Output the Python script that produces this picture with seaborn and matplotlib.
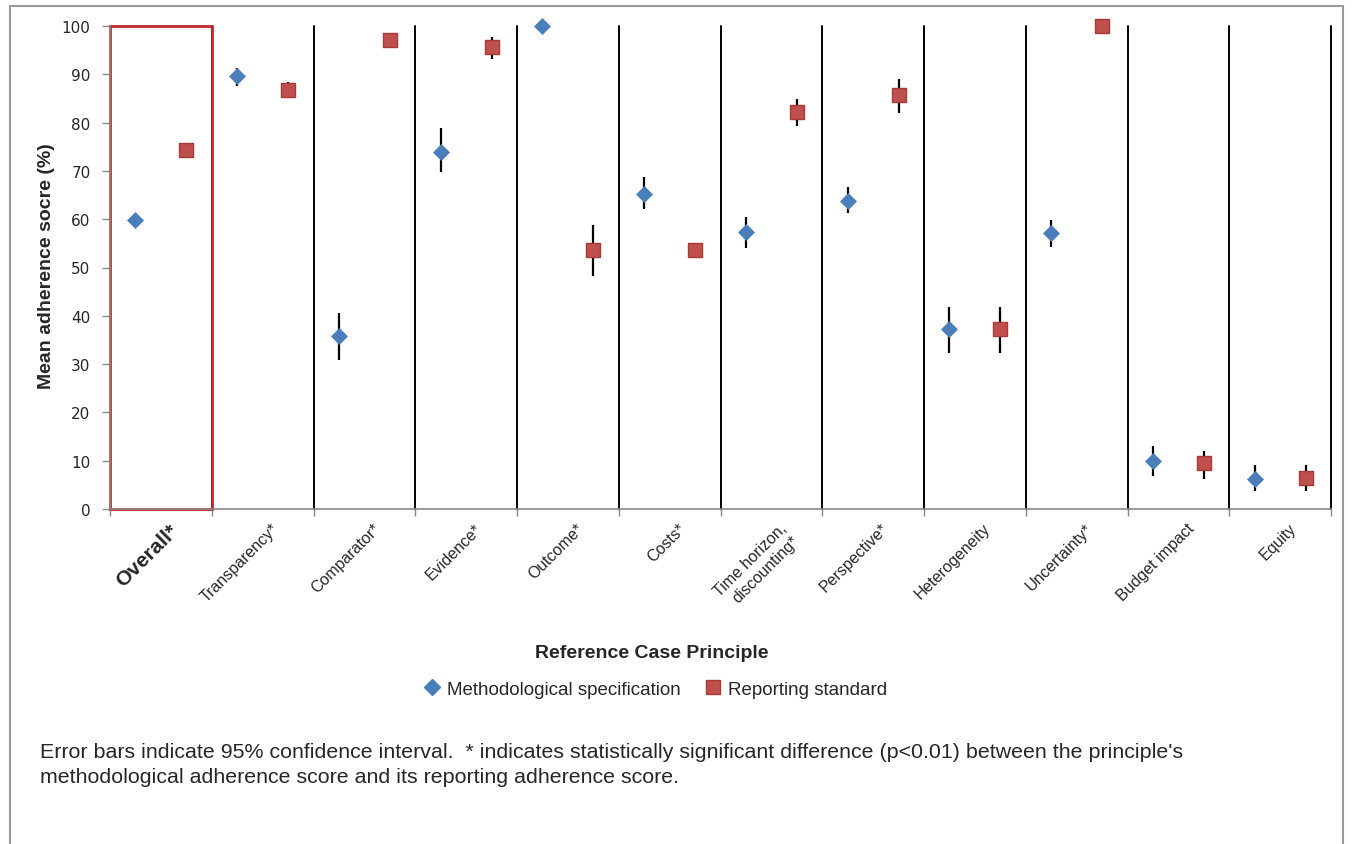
import matplotlib
matplotlib.use("Agg")
import matplotlib.pyplot as plt
import matplotlib.transforms as mtransforms
from matplotlib.patches import Rectangle
from matplotlib.lines import Line2D
import seaborn as sns
import pandas as pd
import numpy as np

categories = ["Overall*", "Transparency*", "Comparator*", "Evidence*", "Outcome*", "Costs*",
              "Time horizon,\ndiscounting*", "Perspective*", "Heterogeneity", "Uncertainty*",
              "Budget impact", "Equity"]

# methodological specification: mean, lower CI, upper CI
meth_mean = [59.8, 89.6, 35.8, 74.0, 100.0, 65.2, 57.3, 63.8, 37.3, 57.1, 9.9, 6.2]
meth_low = [59.3, 87.6, 30.8, 69.7, 99.5, 62.1, 54.0, 61.3, 32.3, 54.2, 6.8, 3.8]
meth_high = [60.3, 91.4, 40.6, 78.8, 100.0, 68.7, 60.4, 66.6, 41.9, 59.9, 13.0, 9.1]

# reporting standard: mean, lower CI, upper CI
rep_mean = [74.3, 86.7, 97.1, 95.6, 53.7, 53.7, 82.1, 85.8, 37.3, 100.0, 9.5, 6.4]
rep_low = [73.8, 85.0, 96.5, 93.2, 48.2, 53.2, 79.2, 82.0, 32.3, 99.5, 6.2, 3.8]
rep_high = [74.8, 88.4, 97.6, 97.7, 58.7, 54.2, 84.9, 89.0, 41.9, 100.0, 12.1, 9.1]

sns.set_theme(style="white")
plt.rcParams["font.family"] = ["Liberation Sans", "DejaVu Sans"]

blue = "#4a7ebb"
red = "#c0504d"
red_edge = "#a83a37"

n = len(categories)
pos = np.arange(n)
df = pd.DataFrame({
    "x": np.concatenate([pos - 0.25, pos + 0.25]),
    "y": meth_mean + rep_mean,
    "lo": meth_low + rep_low,
    "hi": meth_high + rep_high,
    "series": ["Methodological specification"] * n + ["Reporting standard"] * n,
})

fig = plt.figure(figsize=(13.54, 8.45), dpi=100)
ax = fig.add_axes([110 / 1354, 1 - 510 / 845, 1221 / 1354, 483 / 845])

# separators between principles
for b in np.arange(0.5, n + 0.5, 1.0):
    ax.plot([b, b], [0, 100], color="black", lw=1.4, zorder=1, clip_on=False)
ax.add_patch(Rectangle((-0.5, 0), 1, 100, fill=False, edgecolor="#c0282d", lw=2, zorder=2, clip_on=False))

# error bars
ax.vlines(df["x"], df["lo"], df["hi"], color="black", lw=1.6, zorder=3)

sns.scatterplot(data=df[df["series"] == "Methodological specification"], x="x", y="y",
                marker="D", color=blue, s=75, ax=ax, legend=False, zorder=4,
                clip_on=False, linewidth=0)
sns.scatterplot(data=df[df["series"] == "Reporting standard"], x="x", y="y",
                marker="s", color=red, edgecolor=red_edge, s=115, ax=ax, legend=False,
                zorder=5, clip_on=False, linewidth=1)

ax.set_xlim(-0.5, n - 0.5)
ax.set_ylim(0, 100)
ax.set_yticks(range(0, 101, 10))
ax.set_yticklabels([str(v) for v in range(0, 101, 10)], family="DejaVu Sans", fontsize=11)
ax.tick_params(axis="y", length=6, width=1, color="#888888", left=True, pad=8)
ax.set_xticks(np.arange(-0.5, n, 1.0), minor=True)
ax.set_xticks(pos)
ax.set_xticklabels(categories, rotation=45, ha="right", rotation_mode="anchor", fontsize=11.5)
ax.tick_params(axis="x", which="major", length=0, pad=8)
ax.tick_params(axis="x", which="minor", length=5, width=1, color="#888888", bottom=True)
shift = mtransforms.ScaledTranslation(8 / 100, 0, fig.dpi_scale_trans)
for lab in ax.get_xticklabels():
    lab.set_transform(lab.get_transform() + shift)
lab0 = ax.get_xticklabels()[0]
lab0.set_fontweight("bold")
lab0.set_fontsize(15)

for s in ["top", "right"]:
    ax.spines[s].set_visible(False)
for s in ["left", "bottom"]:
    ax.spines[s].set_color("#888888")
    ax.spines[s].set_linewidth(1.2)

ax.set_xlabel("")
ax.set_ylabel("")
fig.text(47 / 1354, 1 - 266 / 845, "Mean adherence socre (%)", rotation=90, ha="center", va="center",
         fontsize=14, fontweight="bold")
fig.text(652 / 1354, 1 - 653 / 845, "Reference Case Principle", ha="center", va="center",
         fontsize=14, fontweight="bold")

handles = [Line2D([], [], marker="D", color=blue, ls="", markersize=8),
           Line2D([], [], marker="s", color=red, markeredgecolor=red_edge, ls="", markersize=10)]
fig.legend(handles, ["Methodological specification", "Reporting standard"], loc="center",
           bbox_to_anchor=(653 / 1354, 1 - 690 / 845), ncol=2, frameon=False, fontsize=13.5,
           handletextpad=0.1, columnspacing=1.0, handlelength=1.4)

fig.text(40 / 1354, 1 - 753 / 845,
         "Error bars indicate 95% confidence interval.  * indicates statistically significant difference (p<0.01) between the principle's",
         ha="left", va="center", fontsize=15.4)
fig.text(40 / 1354, 1 - 778 / 845,
         "methodological adherence score and its reporting adherence score.",
         ha="left", va="center", fontsize=15.4)

# outer frame
fx0, fx1, fy1 = 10 / 1354, 1343 / 1354, 1 - 7 / 845
for xs, ys in [([fx0, fx0], [0, fy1]), ([fx0, fx1], [fy1, fy1]), ([fx1, fx1], [fy1, 0])]:
    fig.add_artist(Line2D(xs, ys, color="#999999", lw=1.5, transform=fig.transFigure))

fig.savefig("out.png", dpi=100, facecolor="white")
